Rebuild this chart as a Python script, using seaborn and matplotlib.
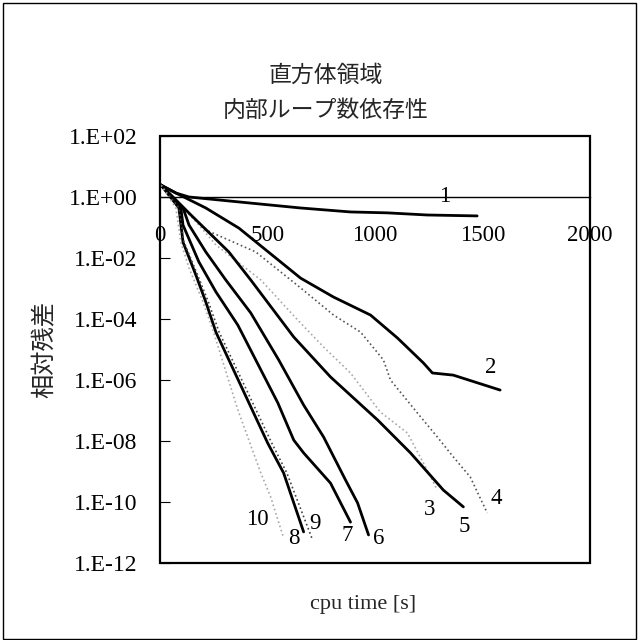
import numpy as np
import pandas as pd
import matplotlib
matplotlib.use("Agg")
import matplotlib.pyplot as plt
import seaborn as sns
from matplotlib.patches import Rectangle
from matplotlib.ticker import FixedLocator, FixedFormatter

# ---- data: cpu time [s] and log10(relative residual) per inner-loop count ----
t_1 = [5, 74, 135, 422, 654, 886, 1058, 1243, 1475]
r_1 = [0.39, 0.13, 0.0, -0.2, -0.36, -0.49, -0.52, -0.59, -0.62]

t_2 = [5, 74, 213, 367, 654, 807, 979, 1104, 1225, 1267, 1364, 1582]
r_2 = [0.39, 0.13, -0.36, -1.02, -2.66, -3.28, -3.87, -4.62, -5.44, -5.77, -5.84, -6.33]

t_3 = [5, 121, 260, 469, 640, 761, 886, 1025, 1151, 1225, 1290]
r_3 = [0.39, -0.43, -1.57, -2.72, -4.03, -4.92, -5.77, -7.05, -7.74, -8.72, -9.61]

t_4 = [5, 51, 213, 445, 654, 807, 933, 1039, 1072, 1197, 1290, 1364, 1443, 1522]
r_4 = [0.39, 0.0, -1.08, -1.80, -2.98, -3.87, -4.43, -5.34, -6.0, -7.08, -7.87, -8.52, -9.18, -10.36]

t_5 = [5, 144, 320, 422, 622, 793, 1012, 1165, 1318, 1411]
r_5 = [0.39, -0.59, -1.80, -2.72, -4.59, -5.90, -7.31, -8.39, -9.61, -10.16]

t_6 = [5, 107, 135, 213, 306, 422, 552, 668, 761, 863, 919, 970]
r_6 = [0.39, -0.36, -0.92, -1.80, -2.72, -3.80, -5.34, -6.82, -7.87, -9.28, -10.03, -11.08]

t_7 = [5, 97, 107, 181, 260, 362, 548, 622, 668, 793, 886]
r_7 = [0.39, -0.36, -0.92, -2.13, -3.11, -4.2, -6.75, -7.97, -8.39, -9.38, -10.66]

t_8 = [5, 88, 107, 167, 213, 260, 501, 575, 668]
r_8 = [0.39, -0.36, -1.48, -2.56, -3.44, -4.43, -8.07, -9.05, -10.98]

t_9 = [5, 88, 110, 175, 225, 275, 520, 590, 710]
r_9 = [0.39, -0.36, -1.45, -2.56, -3.44, -4.43, -8.07, -9.05, -11.25]

t_10 = [5, 74, 97, 135, 200, 246, 362, 469, 515, 575]
r_10 = [0.39, -0.36, -1.48, -2.33, -3.44, -4.36, -6.98, -9.05, -9.84, -11.18]

series_names = ["1", "2", "3", "4", "5", "6", "7", "8", "9", "10"]
series_t = [t_1, t_2, t_3, t_4, t_5, t_6, t_7, t_8, t_9, t_10]
series_r = [r_1, r_2, r_3, r_4, r_5, r_6, r_7, r_8, r_9, r_10]

x_ticks = [0, 500, 1000, 1500, 2000]
y_tick_exps = [2, 0, -2, -4, -6, -8, -10, -12]
y_tick_labels = ["1.E+02", "1.E+00", "1.E-02", "1.E-04", "1.E-06",
                 "1.E-08", "1.E-10", "1.E-12"]

# label anchor positions (cpu time, residual) for the curve numbers
label_pos = {"1": (1325, 1.0), "2": (1536, 2.5e-6), "3": (1253, 5.5e-11),
             "4": (1564, 1.26e-10), "5": (1415, 1.6e-11), "6": (1016, 6.2e-12),
             "7": (872, 7.8e-12), "8": (622, 6.6e-12), "9": (719, 1.9e-11),
             "10": (455, 2.6e-11)}

styles = {
    "1": dict(color="black", lw=2.0, ls="-"),
    "2": dict(color="black", lw=2.0, ls="-"),
    "3": dict(color="#a8a8a8", lw=1.2, ls=":"),
    "4": dict(color="#555555", lw=1.2, ls=":"),
    "5": dict(color="black", lw=2.0, ls="-"),
    "6": dict(color="black", lw=2.0, ls="-"),
    "7": dict(color="black", lw=2.0, ls="-"),
    "8": dict(color="black", lw=2.0, ls="-"),
    "9": dict(color="#444444", lw=1.2, ls=":"),
    "10": dict(color="#a8a8a8", lw=1.2, ls=":"),
}

frames = []
for name, tt, rr in zip(series_names, series_t, series_r):
    frames.append(pd.DataFrame({"loops": name, "time": tt,
                                "residual": np.power(10.0, rr)}))
df = pd.concat(frames, ignore_index=True)

sns.set_theme(style="white")
serif = ["Liberation Serif", "DejaVu Serif"]
jp = ["Noto Sans CJK JP", "DejaVu Sans"]
plt.rcParams["font.family"] = serif

fig = plt.figure(figsize=(6.38, 6.40), dpi=100)
ax = fig.add_axes([160 / 638, 1 - 563 / 640, 430 / 638, 427 / 640])

for name in series_names:
    st = styles[name]
    sns.lineplot(data=df[df["loops"] == name], x="time", y="residual",
                 ax=ax, sort=False, estimator=None, color=st["color"],
                 linewidth=st["lw"], linestyle=st["ls"], legend=False)

ax.set_yscale("log")
ax.set_xlim(0, 2000)
ax.set_ylim(1e-12, 1e2)

# x axis crosses at residual 1
for s in ["left", "right", "top", "bottom"]:
    ax.spines[s].set_color("black")
    ax.spines[s].set_linewidth(1.3)
ax.spines["bottom"].set_position(("data", 1.0))
ax.spines["bottom"].set_linewidth(1.0)
ax.add_patch(Rectangle((0, 0), 1, 1, transform=ax.transAxes, fill=False,
                       edgecolor="black", lw=1.6, clip_on=False, zorder=5))

ax.xaxis.set_major_locator(FixedLocator(x_ticks))
ax.set_xticklabels([str(v) for v in x_ticks])
ax.tick_params(axis="x", direction="in", length=7, width=0.8, pad=20,
               labelsize=16.5, colors="black")
ax.yaxis.set_major_locator(FixedLocator([10.0 ** e for e in y_tick_exps]))
ax.yaxis.set_major_formatter(FixedFormatter(y_tick_labels))
ax.yaxis.set_minor_locator(FixedLocator([]))
ax.tick_params(axis="y", direction="in", length=7, width=0.8, pad=16,
               labelsize=17, colors="black", left=True)
ax.set_xlabel("")
ax.set_ylabel("")

for name in series_names:
    x0, y0 = label_pos[name]
    ax.text(x0, y0, name, fontsize=16.5, ha="center", va="center",
            color="black", zorder=6)

fig.text(326 / 638, 1 - 75 / 640, "直方体領域", family=jp, fontsize=16.5,
         ha="center", va="center")
fig.text(326 / 638, 1 - 110 / 640, "内部ループ数依存性", family=jp,
         fontsize=16.5, ha="center", va="center")
fig.text(45 / 638, 1 - 350 / 640, "相対残差", family=jp, fontsize=17.5,
         rotation=90, ha="center", va="center")
fig.text(363 / 638, 1 - 605 / 640, "cpu time [s]", family=serif, fontsize=16,
         ha="center", va="center")

fig.add_artist(Rectangle((3 / 638, 1 / 640), 633 / 638, 636 / 640,
                         transform=fig.transFigure, fill=False,
                         edgecolor="black", lw=1.0))

fig.savefig("out.png", dpi=100, facecolor="white")
